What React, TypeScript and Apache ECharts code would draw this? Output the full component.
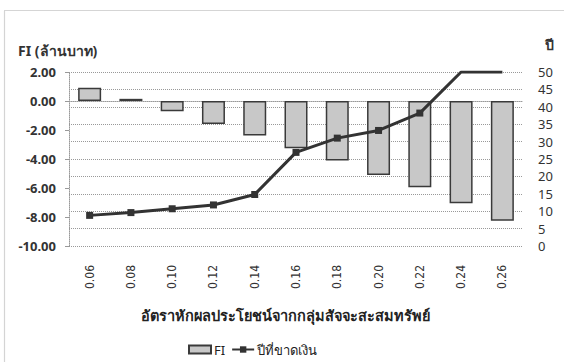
import React, { useEffect, useRef } from "react";
import * as echarts from "echarts";

const categories = ["0.06", "0.08", "0.10", "0.12", "0.14", "0.16", "0.18", "0.20", "0.22", "0.24", "0.26"];
const fiValues = [0.92, 0.15, -0.7, -1.58, -2.38, -3.25, -4.1, -5.1, -5.95, -7.06, -8.25];
const yearValues = [8.8, 9.6, 10.7, 11.8, 14.8, 26.9, 31.0, 33.2, 38.2, 50, 50];
const hiddenMarkerIdx = [9, 10];

const leftName = "FI (ล้านบาท)";
const rightName = "ปี";
const xName = "อัตราหักผลประโยชน์จากกลุ่มสัจจะสะสมทรัพย์";
const fiName = "FI";
const yearName = "ปีที่ขาดเงิน";

const FONT = "'Noto Sans', 'DejaVu Sans', sans-serif";

export default function App() {
  const ref = useRef<HTMLDivElement>(null);
  useEffect(() => {
    if (!ref.current) return;
    const chart = echarts.init(ref.current, null, { renderer: "svg" });
    chart.setOption({
      animation: false,
      backgroundColor: "#ffffff",
      textStyle: { fontFamily: FONT },
      grid: { left: 69, right: 41, top: 72, bottom: 116 },
      legend: {
        top: 338,
        left: 183,
        itemGap: 6,
        itemWidth: 22,
        itemHeight: 8,
        textStyle: { fontSize: 13, color: "#222", fontFamily: FONT, padding: [0, 0, 0, -2] },
        data: [
          { name: fiName, icon: "rect" },
          { name: yearName },
        ],
      },
      xAxis: {
        type: "category",
        data: categories,
        axisLine: { show: true, lineStyle: { color: "#999", type: "dotted" } },
        axisTick: { show: false },
        axisLabel: {
          rotate: 90,
          fontSize: 12,
          color: "#333",
          margin: 19,
          fontFamily: "'Liberation Sans Narrow', 'DejaVu Sans Condensed', sans-serif",
        },
      },
      yAxis: [
        {
          type: "value",
          min: -10,
          max: 2,
          interval: 2,
          splitLine: { show: false },
          axisLine: { show: true, lineStyle: { color: "#999", type: "dotted" } },
          axisTick: { show: true, length: 4, lineStyle: { color: "#999" } },
          axisLabel: {
            formatter: (v: number) => v.toFixed(2),
            fontSize: 13,
            fontWeight: "bold",
            color: "#333",
            margin: 13,
          },
        },
        {
          type: "value",
          min: 0,
          max: 50,
          interval: 5,
          position: "right",
          splitLine: { show: true, lineStyle: { color: "#999", type: "dotted", width: 1 } },
          axisLine: { show: false },
          axisTick: { show: false },
          axisLabel: { fontSize: 13, color: "#333", margin: 15 },
        },
      ],
      series: [
        {
          name: fiName,
          type: "bar",
          yAxisIndex: 0,
          data: fiValues,
          barWidth: 23,
          itemStyle: { color: "#c8c8c8", borderColor: "#3a3a3a", borderWidth: 1.5 },
        },
        {
          name: yearName,
          type: "line",
          yAxisIndex: 1,
          data: yearValues.map((v, i) =>
            hiddenMarkerIdx.includes(i) ? { value: v, symbol: "none" } : v
          ),
          symbol: "rect",
          symbolSize: 7,
          lineStyle: { color: "#333", width: 3 },
          itemStyle: { color: "#333" },
        },
      ],
      graphic: [
        {
          type: "rect",
          shape: { x: 4.5, y: 10.5, width: 700, height: 500 },
          style: { fill: "none", stroke: "#aaa", lineWidth: 1.2, lineDash: [1, 1] },
          silent: true,
        },
        {
          type: "text",
          left: 18,
          top: 43,
          style: { text: leftName, fontSize: 14, fontWeight: "bold", fill: "#333", fontFamily: FONT },
        },
        {
          type: "text",
          left: 545,
          top: 37,
          style: { text: rightName, fontSize: 14, fontWeight: "bold", fill: "#333", fontFamily: FONT },
        },
        {
          type: "text",
          x: 285,
          y: 315,
          style: {
            text: xName,
            fontSize: 14.5,
            fontWeight: "bold",
            fill: "#222",
            align: "center",
            verticalAlign: "middle",
            fontFamily: FONT,
          },
        },
      ],
    });
    return () => chart.dispose();
  }, []);
  return (
    <div
      ref={ref}
      style={{ position: "fixed", left: 0, top: 0, width: 564, height: 362 }}
    />
  );
}
